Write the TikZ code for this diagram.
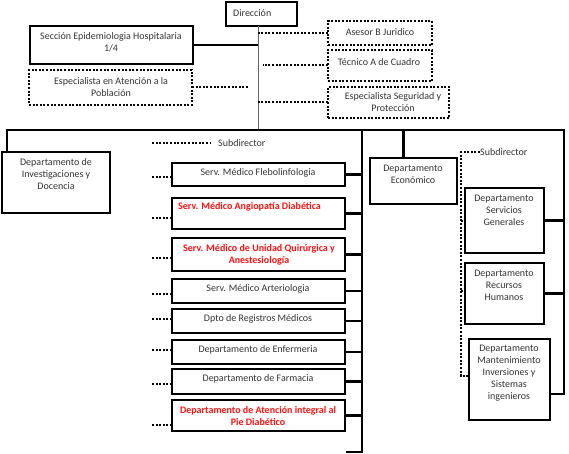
\documentclass[tikz,border=0pt]{standalone}
\usepackage{fontspec}
\setmainfont{Carlito}
\definecolor{txtgray}{HTML}{333333}
\definecolor{orgred}{HTML}{FF1010}
\begin{document}
\begin{tikzpicture}[x=1pt,y=-1pt,
  box/.style={draw, line width=2.1pt, anchor=north west, inner sep=0pt, outer sep=0pt},
  dbox/.style={draw, line width=2pt, dash pattern=on 2pt off 1.6pt, anchor=north west, inner sep=0pt, outer sep=0pt},
  txt/.style={font=\fontsize{10}{12}\selectfont, text=txtgray, align=center, inner sep=0pt},
  rtxt/.style={txt, text=orgred, font=\fontsize{10}{12}\selectfont\bfseries},
  conn/.style={line width=2.1pt},
  thinconn/.style={line width=1pt, draw=black!60},
  dconn/.style={line width=2pt, dash pattern=on 2pt off 1.6pt},
]
\useasboundingbox (0,0) rectangle (569,454);

% --- top level
\node[box, minimum width=71pt, minimum height=24pt] (dir) at (226,2) {};
\node[txt, anchor=west] (dirT) at (233,13) {Dirección};

\node[box, minimum width=163pt, minimum height=38pt] (sec) at (30,26) {};
\node[txt] (secT) at (111,42.5) {Sección Epidemiologia Hospitalaria\\1/4};

\node[dbox, minimum width=163pt, minimum height=35pt] (esp) at (29,70) {};
\node[txt] (espT) at (111,87.5) {Especialista en Atención a la\\Población};

\node[dbox, minimum width=104pt, minimum height=24pt] (ase) at (328,21) {};
\node[txt] (aseT) at (380,32) {Asesor B Juridico};

\node[dbox, minimum width=104pt, minimum height=31pt] (tec) at (328,50) {};
\node[txt] (tecT) at (379,62) {Técnico A de Cuadro};

\node[dbox, minimum width=121pt, minimum height=31pt] (seg) at (328,87) {};
\node[txt] (segT) at (393,102) {Especialista Seguridad y\\Protección};

% --- second level
\node[box, minimum width=108pt, minimum height=61pt] (inv) at (2,152) {};
\node[txt] (invT) at (56,174) {Departamento de\\Investigaciones y\\Docencia};

\node[txt, anchor=west] (sub1) at (218,143) {Subdirector};

\node[box, minimum width=173pt, minimum height=23pt] (s1) at (172,163) {};
\node[txt] (s1T) at (258,173) {Serv. Médico Flebolinfologia};
\node[box, minimum width=173pt, minimum height=31pt] (s2) at (172,198) {};
\node[rtxt, anchor=west] (s2T) at (178,207) {Serv. Médico Angiopatía Diabética};
\node[box, minimum width=173pt, minimum height=33pt] (s3) at (172,238) {};
\node[rtxt] (s3T) at (259,254.5) {Serv. Médico de Unidad Quirúrgica y\\Anestesiología};
\node[box, minimum width=173pt, minimum height=24pt] (s4) at (172,279) {};
\node[txt] (s4T) at (258,288.5) {Serv. Médico Arteriologia};
\node[box, minimum width=173pt, minimum height=24pt] (s5) at (172,309) {};
\node[txt] (s5T) at (258,319) {Dpto de Registros Médicos};
\node[box, minimum width=173pt, minimum height=24pt] (s6) at (172,340) {};
\node[txt] (s6T) at (258,349.5) {Departamento de Enfermeria};
\node[box, minimum width=173pt, minimum height=25pt] (s7) at (172,369) {};
\node[txt] (s7T) at (258,379) {Departamento de Farmacia};
\node[box, minimum width=173pt, minimum height=31pt] (s8) at (172,400) {};
\node[rtxt] (s8T) at (258,416) {Departamento de Atención integral al\\Pie Diabético};

\node[box, minimum width=87pt, minimum height=46pt] (eco) at (370,158) {};
\node[txt] (ecoT) at (413,174) {Departamento\\Económico};

\node[txt, anchor=west] (sub2) at (480,152) {Subdirector};

\node[box, minimum width=79pt, minimum height=65pt] (srv) at (465,188) {};
\node[txt] (srvT) at (504,210) {Departamento\\Servicios\\Generales};
\node[box, minimum width=79pt, minimum height=61pt] (rh) at (465,263) {};
\node[txt] (rhT) at (504,285) {Departamento\\Recursos\\Humanos};
\node[box, minimum width=81pt, minimum height=81pt] (man) at (469,339) {};
\node[txt] (manT) at (509,373) {Departamento\\Mantenimiento\\Inversiones y\\Sistemas\\ingenieros};

% --- connectors, top
\coordinate (dJ) at (258,130);
\draw[thinconn] (dir.south -| dJ) -- (dJ);
\draw[conn] (sec.east) -- (sec.east -| dJ);
\draw[dconn] (ase.west) -- (ase.west -| dJ);
\draw[dconn] (tec.west) -- ++(-65,0);
\draw[dconn] (seg.west) -- (seg.west -| dJ);
\draw[dconn] (esp.east) -- ++(56,0);

% --- main bar
\coordinate (mL) at (7,130);
\coordinate (mR) at (564,130);
\coordinate (manS) at ([yshift=-14.5pt]man.east);
\draw[conn] (inv.north -| mL) -- (mL) -- (mR) -- (mR |- manS) -- (manS);
\draw[conn] (srv.east) -- (srv.east -| mR);
\draw[conn] (rh.east) -- (rh.east -| mR);

% --- service column
\coordinate (cJ) at (362,130);
\coordinate (cB) at (362,452);
\draw[conn] (cJ) -- (cB) -- ++(-16,0);
\foreach \n in {s1,s2,s3,s4,s5,s6,s7,s8}
  \draw[conn] (\n.east) -- (\n.east -| cJ);
\foreach \n/\o in {s1/-2.5pt,s2/-4.5pt,s3/-3.5pt,s4/-3pt,s5/2pt,s6/2pt,s7/-2.5pt,s8/-9.5pt}
  \draw[dconn] ([yshift=\o]\n.west) -- ++(-20,0);
\coordinate (ldL) at (152,143);
\draw[dconn] (ldL) -- ([xshift=-8pt]sub1.west);

% --- economico
\coordinate (eJ) at (403,130);
\draw[line width=3pt] (eJ) -- (eJ |- eco.north);

% --- right subdirector
\coordinate (rdT) at (461,152);
\coordinate (rdB) at (461,376);
\draw[dconn] (sub2.west) -- (rdT) -- (rdB) -- (rdB -| man.west);
\draw[dconn] (srv.west -| rdT) -- (srv.west);
\draw[dconn] ([yshift=3pt]rh.west -| rdT) -- ([yshift=3pt]rh.west);
\end{tikzpicture}
\end{document}
